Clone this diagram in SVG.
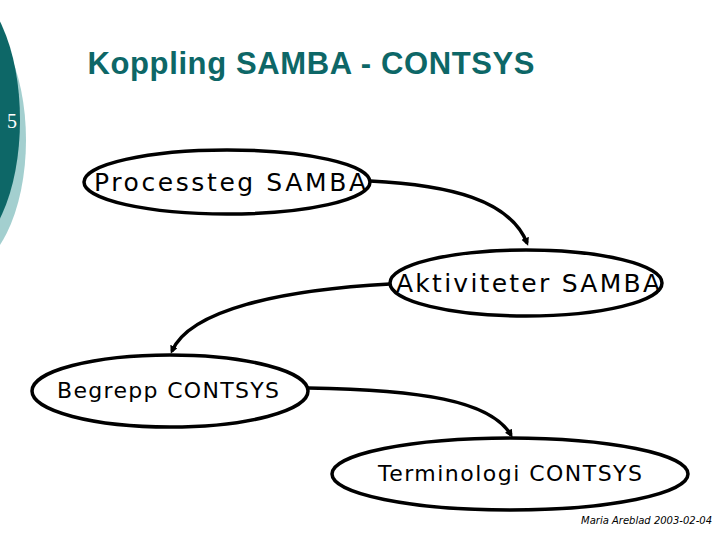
<svg xmlns="http://www.w3.org/2000/svg" width="720" height="540" viewBox="0 0 720 540">
<style>
.n{fill:#fff;stroke:#000;stroke-width:3.5}
.t{font-family:"DejaVu Sans",sans-serif;font-size:25px;fill:#000;text-anchor:middle}
.c{fill:none;stroke:#000;stroke-width:3.5;marker-end:url(#a)}
</style>
<defs><marker id="a" markerWidth="8" markerHeight="8" refX="5" refY="4" orient="auto" markerUnits="userSpaceOnUse"><path d="M0,0 L8,4 L0,8 z"/></marker></defs>
<rect width="720" height="540" fill="#fff"/>
<ellipse cx="-40" cy="140" rx="66" ry="132" fill="#a3cfcf"/>
<ellipse cx="-40" cy="120" rx="60" ry="132" fill="#0d6767"/>
<text x="12" y="128" font-family="Liberation Serif,serif" font-size="20" fill="#fff" text-anchor="middle">5</text>
<text x="311" y="74" font-family="Liberation Sans,sans-serif" font-size="31" font-weight="bold" fill="#0d6767" text-anchor="middle" textLength="447">Koppling SAMBA - CONTSYS</text>
<g id="connectors">
<path class="c" d="M370,181 C450,185 510,200 527,243"/>
<path class="c" d="M390,284 C280,290 190,310 172,351"/>
<path class="c" d="M308,388 C420,390 490,400 511,435"/>
</g>
<g id="n1"><ellipse class="n" cx="227" cy="182" rx="143" ry="32"/><text class="t" x="230" y="191" textLength="272">Processteg SAMBA</text></g>
<g id="n2"><ellipse class="n" cx="526" cy="283" rx="136" ry="33"/><text class="t" x="528" y="292" textLength="264">Aktiviteter SAMBA</text></g>
<g id="n3"><ellipse class="n" cx="170" cy="391" rx="138" ry="36"/><text class="t" x="168" y="398" style="font-size:22px" textLength="222">Begrepp CONTSYS</text></g>
<g id="n4"><ellipse class="n" cx="510" cy="474" rx="178" ry="36"/><text class="t" x="510" y="481" style="font-size:22px" textLength="264">Terminologi CONTSYS</text></g>
<text x="712" y="524" font-family="DejaVu Sans,sans-serif" font-size="10" font-style="italic" text-anchor="end">Maria Areblad 2003-02-04</text>
</svg>
